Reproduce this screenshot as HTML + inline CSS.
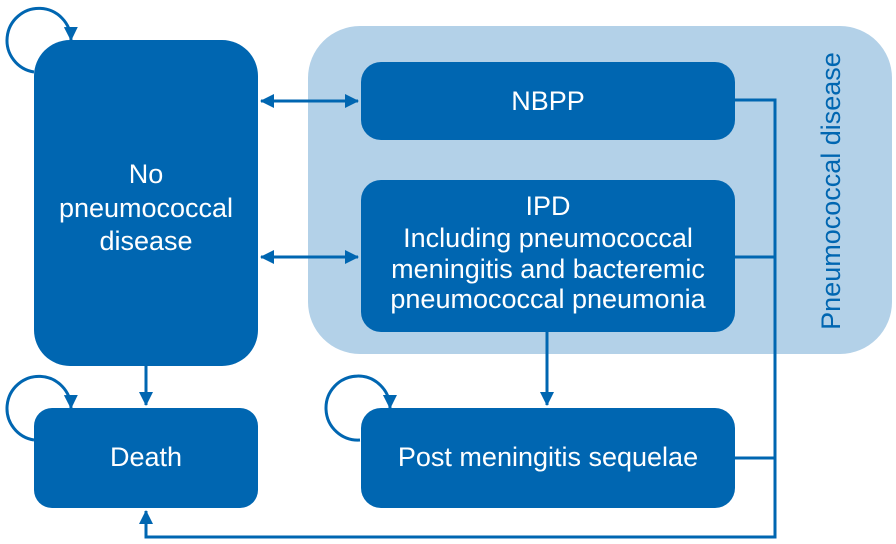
<!DOCTYPE html>
<html><head><meta charset="utf-8"><style>
html,body{margin:0;padding:0;background:#fff;}
svg{display:block;}
text{font-family:"Liberation Sans",Arial,sans-serif;fill:#fff;font-size:27px;}
</style></head><body>
<svg width="896" height="544" viewBox="0 0 896 544" xmlns="http://www.w3.org/2000/svg">
<defs>
<marker id="b" markerWidth="14" markerHeight="14" refX="13" refY="7" orient="auto-start-reverse" markerUnits="userSpaceOnUse" viewBox="0 0 14 14">
<path d="M0,0 L14,7 L0,14 Z" fill="#0066b1"/></marker>
</defs>
<rect x="308" y="26" width="584" height="328" rx="52" fill="#b3d1e8"/>
<text x="830" y="191" text-anchor="middle" transform="rotate(-90 830 191)" style="fill:#0066b1" dy="10">Pneumococcal disease</text>
<g fill="#0066b1">
<rect x="34" y="40" width="224" height="326" rx="36"/>
<rect x="361" y="62" width="374" height="78" rx="20"/>
<rect x="361" y="180" width="374" height="152" rx="20"/>
<rect x="34" y="408" width="224" height="100" rx="18"/>
<rect x="361" y="408" width="374" height="100" rx="20"/>
</g>
<text x="146" y="183" text-anchor="middle">No</text>
<text x="146" y="217" text-anchor="middle">pneumococcal</text>
<text x="146" y="250" text-anchor="middle">disease</text>
<text x="548" y="110" text-anchor="middle">NBPP</text>
<text x="548" y="215" text-anchor="middle">IPD</text>
<text x="548" y="247" text-anchor="middle">Including pneumococcal</text>
<text x="548" y="278" text-anchor="middle">meningitis and bacteremic</text>
<text x="548" y="308" text-anchor="middle">pneumococcal pneumonia</text>
<text x="146" y="466" text-anchor="middle">Death</text>
<text x="548" y="466" text-anchor="middle">Post meningitis sequelae</text>
<g stroke="#0066b1" stroke-width="3" fill="none">
<line x1="261" y1="101" x2="358" y2="101" marker-start="url(#b)" marker-end="url(#b)"/>
<line x1="261" y1="257" x2="358" y2="257" marker-start="url(#b)" marker-end="url(#b)"/>
<line x1="146" y1="366" x2="146" y2="405" marker-end="url(#b)"/>
<line x1="547" y1="332" x2="547" y2="405" marker-end="url(#b)"/>
<polyline points="735,100 775,100 775,537 146,537 146,511" marker-end="url(#b)"/>
<line x1="735" y1="257" x2="775" y2="257"/>
<line x1="735" y1="458" x2="775" y2="458"/>
<path d="M34,72 A32,32 0 1 1 71,40" marker-end="url(#b)"/>
<path d="M34,440 A32,32 0 1 1 71,408" marker-end="url(#b)"/>
<path d="M360,440 A32,32 0 1 1 390,408" marker-end="url(#b)"/>
</g>
</svg>
</body></html>
